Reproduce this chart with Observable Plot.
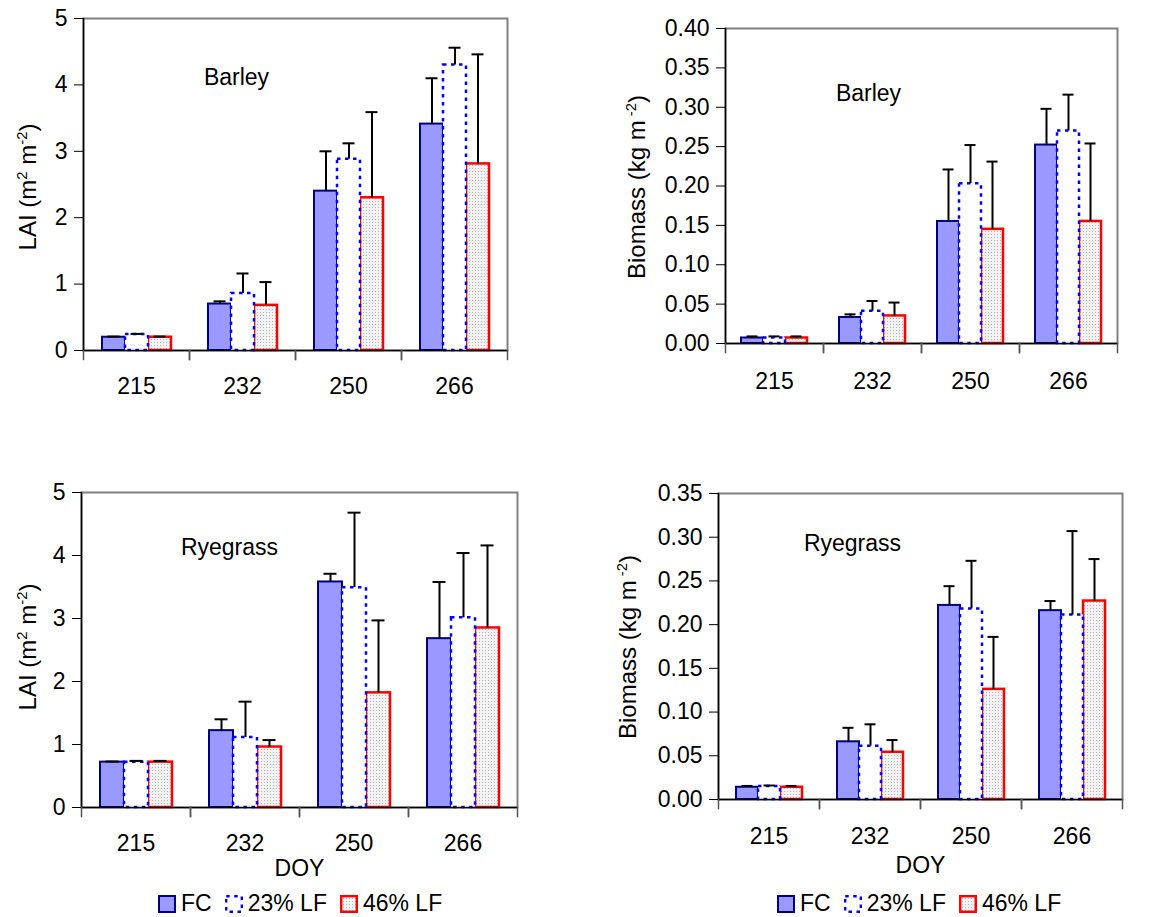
<!DOCTYPE html>
<html>
<head>
<meta charset="utf-8">
<script src="https://cdn.jsdelivr.net/npm/d3@7"></script>
<script src="https://cdn.jsdelivr.net/npm/@observablehq/plot@0.6"></script>
<style>
  body { margin: 0; background: #fff; font-family: "Liberation Sans", Arial, sans-serif; color: #000; }
  #root { position: relative; width: 1149px; height: 917px; overflow: hidden; }
  .panel { position: absolute; }
  .ylab { position: absolute; font-size: 24px; white-space: nowrap; transform: translate(-50%, -50%) rotate(-90deg); line-height: 1; }
  .ylab sup { font-size: 0.62em; vertical-align: 0.6em; line-height: 0; }
  .legend { position: absolute; display: flex; align-items: center; font-size: 23px; line-height: 1; }
  .legend .item { display: flex; align-items: center; margin-right: 13px; }
  .legend svg { margin-right: 5px; }
</style>
</head>
<body>
<div id="root"></div>
<script>
// ---------- data ----------
const doys = [215, 232, 250, 266];
const treatments = ["FC", "23% LF", "46% LF"];

// LAI, barley (m2 m-2): means and SD (upper error bar)
const laiBarleyFC  = [0.20, 0.70, 2.40, 3.41];
const laiBarley23  = [0.24, 0.86, 2.88, 4.30];
const laiBarley46  = [0.20, 0.68, 2.30, 2.81];
const laiBarleyFCsd = [0.01, 0.04, 0.60, 0.69];
const laiBarley23sd = [0.01, 0.30, 0.24, 0.26];
const laiBarley46sd = [0.01, 0.35, 1.29, 1.65];

// Biomass, barley (kg m-2)
const bioBarleyFC  = [0.007, 0.033, 0.155, 0.252];
const bioBarley23  = [0.007, 0.041, 0.203, 0.270];
const bioBarley46  = [0.007, 0.035, 0.145, 0.155];
const bioBarleyFCsd = [0.002, 0.004, 0.066, 0.046];
const bioBarley23sd = [0.002, 0.013, 0.049, 0.046];
const bioBarley46sd = [0.002, 0.017, 0.086, 0.099];

// LAI, ryegrass (m2 m-2)
const laiRyeFC  = [0.72, 1.22, 3.58, 2.68];
const laiRye23  = [0.72, 1.11, 3.49, 3.01];
const laiRye46  = [0.72, 0.96, 1.82, 2.85];
const laiRyeFCsd = [0.01, 0.18, 0.13, 0.90];
const laiRye23sd = [0.02, 0.57, 1.19, 1.03];
const laiRye46sd = [0.02, 0.11, 1.15, 1.31];

// Biomass, ryegrass (kg m-2)
const bioRyeFC  = [0.014, 0.066, 0.222, 0.216];
const bioRye23  = [0.015, 0.061, 0.218, 0.211];
const bioRye46  = [0.014, 0.054, 0.126, 0.227];
const bioRyeFCsd = [0.0015, 0.016, 0.022, 0.011];
const bioRye23sd = [0.001, 0.025, 0.055, 0.096];
const bioRye46sd = [0.0015, 0.014, 0.060, 0.048];

const laiTicks = [0, 1, 2, 3, 4, 5];
const bioBarleyTicks = [0, 0.05, 0.10, 0.15, 0.20, 0.25, 0.30, 0.35, 0.40];
const bioRyeTicks = [0, 0.05, 0.10, 0.15, 0.20, 0.25, 0.30, 0.35];

// ---------- helpers ----------
function buildRows(means, sds) {
  const rows = [];
  treatments.forEach((t, ti) => {
    doys.forEach((d, di) => rows.push({doy: d, trt: t, value: means[ti][di], sd: sds[ti][di]}));
  });
  return rows;
}

const FONT = "'Liberation Sans', Arial, sans-serif";
const FS = 23;
const root = document.getElementById("root");

function panel(cfg) {
  const rows = buildRows(cfg.means, cfg.sds);
  const plotH = cfg.height - cfg.mt - cfg.mb;
  const patId = "dots-" + cfg.id;
  const common = {fx: "doy", x: "trt", y: "value"};
  const svg = Plot.plot({
    width: cfg.width, height: cfg.height,
    marginLeft: cfg.ml, marginTop: cfg.mt, marginRight: cfg.mr, marginBottom: cfg.mb,
    style: {fontFamily: FONT, fontSize: FS + "px", color: "#000", background: "transparent", overflow: "visible"},
    fx: {domain: doys, padding: 0, label: null},
    x: {domain: treatments, paddingInner: 0, paddingOuter: 0.72, axis: null},
    y: {domain: cfg.yDomain, axis: null},
    marks: [
      Plot.frame({facet: "super", stroke: "#808080", strokeWidth: 2}),
      Plot.barY(rows.filter(d => d.trt === "FC"), {...common, fill: "#9999ff", stroke: "#000080", strokeWidth: 2}),
      Plot.barY(rows.filter(d => d.trt === "46% LF"), {...common, fill: `url(#${patId})`, stroke: "#ff0000", strokeWidth: 2.5}),
      Plot.barY(rows.filter(d => d.trt === "23% LF"), {...common, fill: "white", stroke: "#0000ff", strokeWidth: 2.5, strokeDasharray: "3.5,4.5"}),
      Plot.ruleX(rows, {fx: "doy", x: "trt", y1: "value", y2: d => d.value + d.sd, stroke: "#000", strokeWidth: 2}),
      Plot.tickY(rows, {fx: "doy", x: "trt", y: d => d.value + d.sd, stroke: "#000", strokeWidth: 2, insetLeft: 5.5, insetRight: 5.5}),
      Plot.ruleY([0], {stroke: "#000", strokeWidth: 1.5}),
      Plot.frame({facet: "super", anchor: "left", stroke: "#000", strokeWidth: 1.5}),
      Plot.frame({anchor: "left", insetTop: plotH, insetBottom: -9, stroke: "#555", strokeWidth: 1.5}),
      Plot.frame({anchor: "right", insetTop: plotH, insetBottom: -9, stroke: "#555", strokeWidth: 1.5}),
      Plot.axisY({ticks: cfg.yTicks, tickFormat: cfg.yFormat, tickSize: 9, tickPadding: 7, fontSize: FS, label: null, stroke: "#000"}),
      Plot.axisFx({anchor: "bottom", tickSize: 0, tickPadding: cfg.xPad, fontSize: FS,
        label: cfg.doy ? "DOY" : null, labelAnchor: "center", labelOffset: cfg.doyOffset}),
      Plot.text([cfg.title], {facet: "super", frameAnchor: "top-left", dx: cfg.titleDx, dy: cfg.titleDy,
        textAnchor: "middle", lineAnchor: "middle", fontSize: FS})
    ]
  });
  const defs = d3.select(svg).insert("defs", ":first-child");
  const pat = defs.append("pattern").attr("id", patId).attr("patternUnits", "userSpaceOnUse").attr("width", 3).attr("height", 3);
  pat.append("rect").attr("width", 3).attr("height", 3).attr("fill", "#f3f3f3");
  pat.append("rect").attr("width", 1).attr("height", 1).attr("fill", "#b5b5b5");

  const wrap = document.createElement("div");
  wrap.className = "panel";
  wrap.style.left = cfg.left + "px";
  wrap.style.top = cfg.top + "px";
  wrap.appendChild(svg);
  root.appendChild(wrap);

  const yl = document.createElement("div");
  yl.className = "ylab";
  yl.style.left = cfg.ylabX + "px";
  yl.style.top = cfg.ylabY + "px";
  yl.innerHTML = cfg.ylab;
  root.appendChild(yl);
}

function legend(left, top) {
  const lg = document.createElement("div");
  lg.className = "legend";
  lg.style.left = left + "px";
  lg.style.top = top + "px";
  const swatch = {
    "FC": `<svg width="18" height="18"><rect x="1" y="1" width="16" height="16" fill="#9999ff" stroke="#000080" stroke-width="2"/></svg>`,
    "23% LF": `<svg width="18" height="18"><rect x="1.2" y="1.2" width="15.6" height="15.6" fill="white" stroke="#0000ff" stroke-width="2.4" stroke-dasharray="3.5,4.5"/></svg>`,
    "46% LF": `<svg width="18" height="18"><defs><pattern id="lgdots${left}" patternUnits="userSpaceOnUse" width="3" height="3"><rect width="3" height="3" fill="#f3f3f3"/><rect width="1" height="1" fill="#b5b5b5"/></pattern></defs><rect x="1.2" y="1.2" width="15.6" height="15.6" fill="url(#lgdots${left})" stroke="#ff0000" stroke-width="2.4"/></svg>`
  };
  treatments.forEach(t => {
    const it = document.createElement("div");
    it.className = "item";
    it.innerHTML = swatch[t] + `<span>${t}</span>`;
    lg.appendChild(it);
  });
  root.appendChild(lg);
}

panel({id: "tl", left: 0, top: 0, width: 540, height: 420, ml: 82, mt: 18, mr: 32, mb: 70,
  means: [laiBarleyFC, laiBarley23, laiBarley46], sds: [laiBarleyFCsd, laiBarley23sd, laiBarley46sd],
  yDomain: [0, 5], yTicks: laiTicks, yFormat: d3.format("d"), xPad: 27,
  title: "Barley", titleDx: 153, titleDy: 59,
  ylab: "LAI (m<sup>2</sup> m<sup>-2</sup>)", ylabX: 28, ylabY: 187});

panel({id: "tr", left: 600, top: 0, width: 549, height: 420, ml: 125, mt: 28, mr: 32, mb: 77,
  means: [bioBarleyFC, bioBarley23, bioBarley46], sds: [bioBarleyFCsd, bioBarley23sd, bioBarley46sd],
  yDomain: [0, 0.4], yTicks: bioBarleyTicks, yFormat: d3.format(".2f"), xPad: 29,
  title: "Barley", titleDx: 143, titleDy: 65,
  ylab: "Biomass (kg m<sup> -2</sup>)", ylabX: 637, ylabY: 187});

panel({id: "bl", left: 0, top: 470, width: 540, height: 420, ml: 79, mt: 22, mr: 22, mb: 83,
  means: [laiRyeFC, laiRye23, laiRye46], sds: [laiRyeFCsd, laiRye23sd, laiRye46sd],
  yDomain: [0, 5], yTicks: laiTicks, yFormat: d3.format("d"), xPad: 27, doy: true, doyOffset: 68,
  title: "Ryegrass", titleDx: 148, titleDy: 55,
  ylab: "LAI (m<sup>2</sup> m<sup>-2</sup>)", ylabX: 28, ylabY: 647});

panel({id: "br", left: 600, top: 470, width: 549, height: 420, ml: 117, mt: 23, mr: 27, mb: 91,
  means: [bioRyeFC, bioRye23, bioRye46], sds: [bioRyeFCsd, bioRye23sd, bioRye46sd],
  yDomain: [0, 0.35], yTicks: bioRyeTicks, yFormat: d3.format(".2f"), xPad: 28, doy: true, doyOffset: 73,
  title: "Ryegrass", titleDx: 134, titleDy: 50,
  ylab: "Biomass (kg m<sup> -2</sup>)", ylabX: 628, ylabY: 647});

legend(158, 892);
legend(777, 892);
</script>
</body>
</html>
